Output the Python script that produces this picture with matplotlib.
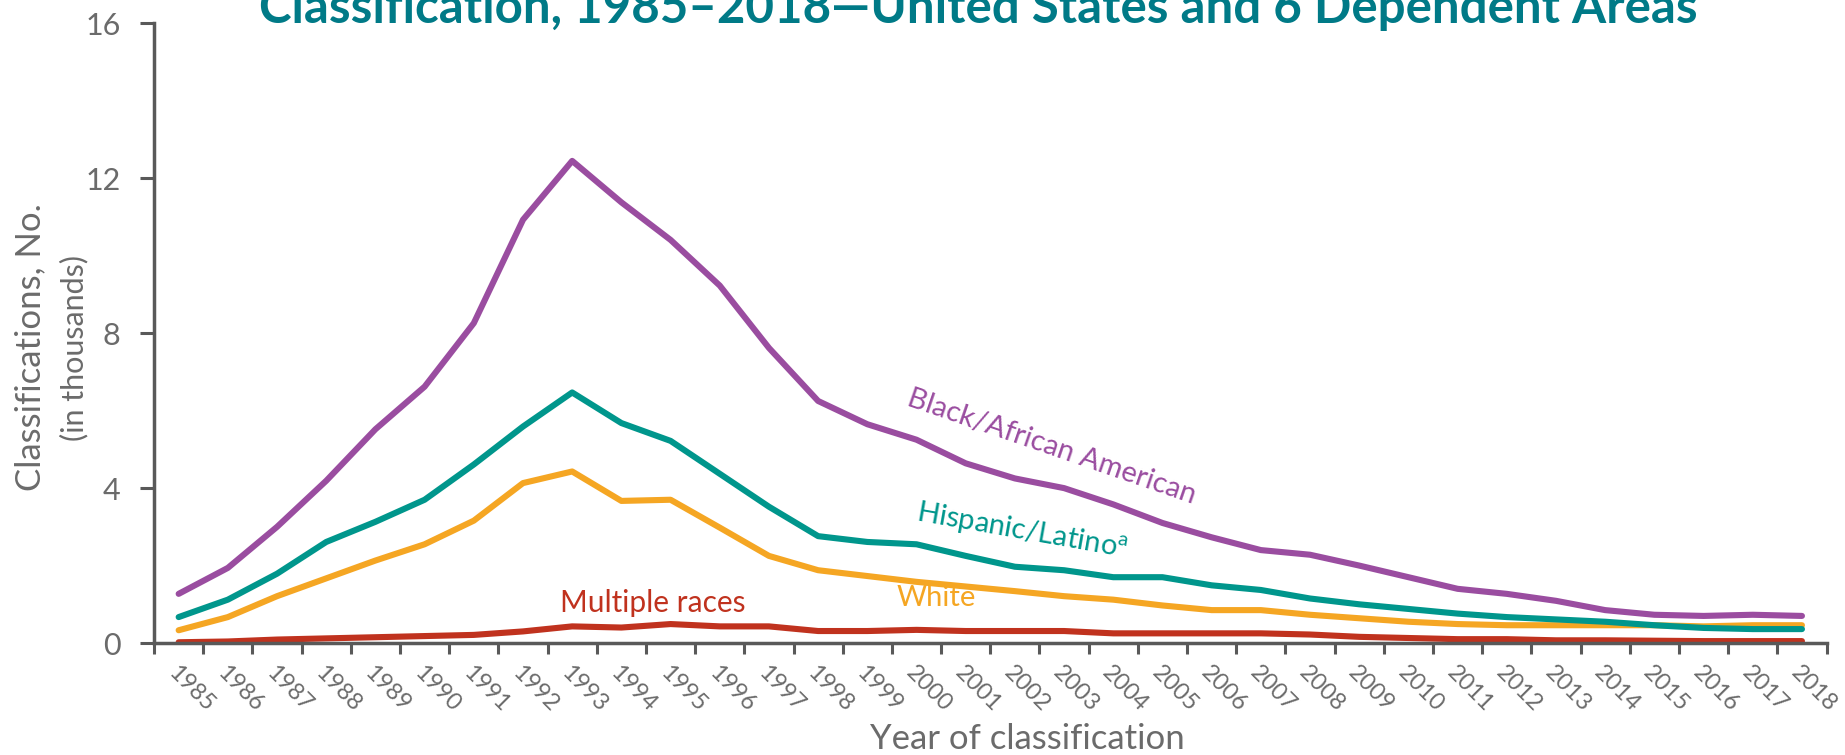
import numpy as np
import matplotlib.pyplot as plt

plt.rcParams['font.family'] = ['Lato', 'DejaVu Sans']

years = list(range(1985, 2019))

black = [1.27, 1.94, 3.0, 4.19, 5.52, 6.62, 8.26, 10.93, 12.45, 11.38, 10.41, 9.23,
         7.62, 6.25, 5.65, 5.25, 4.64, 4.25, 4.0, 3.58, 3.10, 2.73, 2.40, 2.28,
         2.0, 1.70, 1.40, 1.27, 1.09, 0.85, 0.73, 0.70, 0.73, 0.70]
hispanic = [0.67, 1.12, 1.79, 2.61, 3.13, 3.70, 4.61, 5.59, 6.47, 5.68, 5.22, 4.37,
            3.52, 2.76, 2.61, 2.55, 2.25, 1.97, 1.88, 1.70, 1.70, 1.49, 1.37, 1.15,
            1.0, 0.88, 0.76, 0.67, 0.61, 0.55, 0.46, 0.39, 0.36, 0.36]
white = [0.33, 0.67, 1.21, 1.67, 2.13, 2.55, 3.16, 4.13, 4.43, 3.67, 3.70, 2.98,
         2.25, 1.88, 1.73, 1.58, 1.46, 1.34, 1.21, 1.12, 0.97, 0.85, 0.85, 0.73,
         0.64, 0.55, 0.49, 0.46, 0.46, 0.46, 0.46, 0.43, 0.46, 0.46]
multiple = [0.02, 0.04, 0.09, 0.12, 0.15, 0.18, 0.21, 0.30, 0.43, 0.40, 0.49, 0.43,
            0.43, 0.31, 0.31, 0.34, 0.31, 0.31, 0.31, 0.25, 0.25, 0.25, 0.25, 0.22,
            0.16, 0.13, 0.10, 0.10, 0.07, 0.07, 0.06, 0.05, 0.05, 0.05]

c_black = '#9A4DA0'
c_hisp = '#00968C'
c_white = '#F5A623'
c_mult = '#C0321E'
gray = '#595959'
tgray = '#6b6b6b'

fig = plt.figure(figsize=(18.45, 7.55), dpi=100)
ax = fig.add_axes([0.0835, 0.1483, 0.9065, 0.8207])

x = np.arange(len(years))
ax.plot(x, multiple, color=c_mult, lw=4.4, solid_joinstyle='round', solid_capstyle='round')
ax.plot(x, white, color=c_white, lw=4.4, solid_joinstyle='round', solid_capstyle='round')
ax.plot(x, hispanic, color=c_hisp, lw=4.4, solid_joinstyle='round', solid_capstyle='round')
ax.plot(x, black, color=c_black, lw=4.4, solid_joinstyle='round', solid_capstyle='round')

ax.set_xlim(-0.5, len(years) - 0.5)
ax.set_ylim(0, 16)
ax.set_yticks([0, 4, 8, 12, 16])
ax.tick_params(axis='y', labelsize=22, colors=gray, labelcolor=tgray, length=10, width=2.2, pad=14)

# ticks sit between the years, labels at the year itself
ax.set_xticks(np.arange(-0.5, len(years), 1.0))
ax.set_xticklabels([])
ax.set_xticks(x, minor=True)
ax.set_xticklabels([str(y) for y in years], minor=True, rotation=-45,
                   ha='left', va='top', rotation_mode='anchor', fontsize=17, color=tgray)
ax.tick_params(axis='x', which='major', colors=gray, length=8, width=2.2)
ax.tick_params(axis='x', which='minor', length=0, pad=14)

for s in ['top', 'right']:
    ax.spines[s].set_visible(False)
for s in ['left', 'bottom']:
    ax.spines[s].set_color(gray)
    ax.spines[s].set_linewidth(2.5)

fig.text(0.5568, 0.021, 'Year of classification', ha='center', va='center',
         fontsize=25, color=tgray)
fig.text(0.0163, 0.540, 'Classifications, No.', rotation=90, ha='center', va='center',
         fontsize=25, color=tgray)
fig.text(0.040, 0.539, '(in thousands)', rotation=90, ha='center', va='center',
         fontsize=22, color=tgray)

fig.text(0.53, 0.969, 'Classification, 1985\u20132018\u2014United States and 6 Dependent Areas',
         ha='center', va='baseline', fontsize=35.5, fontweight='bold', color='#007A87')

ax.text(17.74, 5.06, 'Black/African American', rotation=-19, ha='center', va='center',
        fontsize=21, color=c_black)
ax.text(17.15, 2.87, 'Hispanic/Latino$^{\\mathregular{a}}$', rotation=-10, ha='center',
        va='center', fontsize=21, color=c_hisp)
ax.text(15.4, 1.16, 'White', ha='center', va='center', fontsize=21, color=c_white)
ax.text(9.63, 1.03, 'Multiple races', ha='center', va='center', fontsize=21.5, color=c_mult)

fig.savefig('out.png', dpi=100)
